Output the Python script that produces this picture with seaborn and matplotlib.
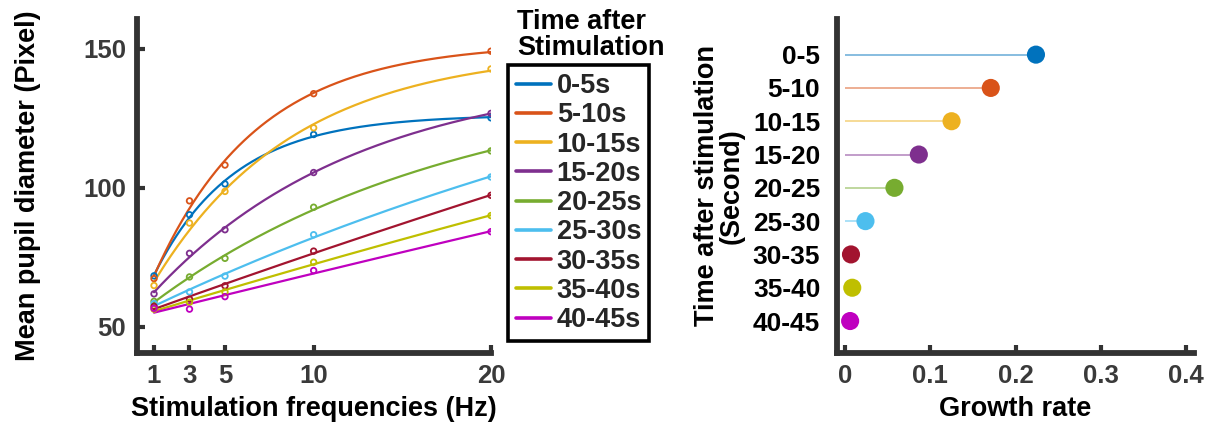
import numpy as np
import pandas as pd
import matplotlib
matplotlib.use("Agg")
import matplotlib.pyplot as plt
from matplotlib.lines import Line2D
import seaborn as sns

# ---------------- data ----------------
freqs = [1, 3, 5, 10, 20]
periods = ["0-5s", "5-10s", "10-15s", "15-20s", "20-25s",
           "25-30s", "30-35s", "35-40s", "40-45s"]
d_0_5   = [68.3, 90.3, 101.4, 119.2, 125.2]
d_5_10  = [67.3, 95.3, 108.2, 133.9, 149.2]
d_10_15 = [64.8, 87.3, 98.7, 121.6, 142.8]
d_15_20 = [61.8, 76.4, 84.9, 105.5, 126.8]
d_20_25 = [59.1, 67.9, 74.6, 93.0, 113.3]
d_25_30 = [58.3, 62.5, 68.2, 83.1, 103.9]
d_30_35 = [57.3, 59.9, 64.7, 77.2, 97.3]
d_35_40 = [56.3, 58.8, 62.5, 73.2, 90.0]
d_40_45 = [56.6, 56.3, 60.8, 70.2, 84.2]
series = [d_0_5, d_5_10, d_10_15, d_15_20, d_20_25,
          d_25_30, d_30_35, d_35_40, d_40_45]

rate_labels = ["0-5", "5-10", "10-15", "15-20", "20-25",
               "25-30", "30-35", "35-40", "40-45"]
growth_rate = [0.224, 0.171, 0.125, 0.0866, 0.058, 0.024, 0.007, 0.0085, 0.006]

x_ticks_left = [1, 3, 5, 10, 20]
y_ticks_left = [50, 100, 150]
x_ticks_right = [0, 0.1, 0.2, 0.3, 0.4]

colors = ["#0072BD", "#D95319", "#EDB120", "#7E2F8E", "#77AC30",
          "#4DBEEE", "#A2142F", "#BFBF00", "#BF00BF"]

# ---------------- style ----------------
sns.set_style("ticks")
plt.rcParams["font.family"] = ["Liberation Sans", "DejaVu Sans"]
plt.rcParams["font.weight"] = "bold"
plt.rcParams["axes.labelweight"] = "bold"

AX_COL = "#333333"
TICK_COL = "#3a3a3a"
W, H = 1223, 436
fig = plt.figure(figsize=(W / 100, H / 100), dpi=100)

def fx(px):
    return px / W

def fy(py):
    return 1 - py / H

ax1 = fig.add_axes([fx(137), fy(353), fx(491) - fx(137), fy(19) - fy(353)])
ax2 = fig.add_axes([fx(837), fy(353), fx(1194) - fx(837), fy(19) - fy(353)])


def fit_sat(x, y):
    x = np.asarray(x, float)
    y = np.asarray(y, float)
    best = None
    for c in np.linspace(0.003, 1.0, 600):
        A = np.column_stack([np.ones_like(x), -np.exp(-c * x)])
        coef, *_ = np.linalg.lstsq(A, y, rcond=None)
        r = np.sum((A @ coef - y) ** 2)
        if best is None or r < best[0]:
            best = (r, coef, c)
    _, (a, b), c = best
    return lambda t: a - b * np.exp(-c * t)


xs = np.linspace(1, 20, 300)
rows = []
for lab, vals in zip(periods, series):
    f = fit_sat(freqs, vals)
    for t in xs:
        rows.append({"freq": t, "val": f(t), "period": lab})
fit_df = pd.DataFrame(rows)
pts_df = pd.DataFrame({
    "freq": np.tile(freqs, len(periods)),
    "val": np.concatenate(series),
    "period": np.repeat(periods, len(freqs)),
})

sns.lineplot(data=fit_df, x="freq", y="val", hue="period", palette=colors,
             hue_order=periods, ax=ax1, legend=False, linewidth=1.6)
for lab, col in zip(periods, colors):
    sub = pts_df[pts_df["period"] == lab]
    sns.scatterplot(x=sub["freq"], y=sub["val"], ax=ax1, marker="o", s=16,
                    facecolors="none", edgecolors=col, linewidth=1.3, zorder=3)

ax1.set_xlim(0.04, 20.0)
ax1.set_ylim(40.5, 160.8)
ax1.set_xticks(x_ticks_left)
ax1.set_yticks(y_ticks_left)
ax1.set_xlabel("Stimulation frequencies (Hz)", fontsize=19.5, color="black", labelpad=6)
ax1.set_ylabel("Mean pupil diameter (Pixel)", fontsize=19.5, color="black", labelpad=30)

# ---------- right lollipop ----------
ypos = np.arange(len(rate_labels))
rate_df = pd.DataFrame({"rate": growth_rate, "pos": ypos, "label": rate_labels})
ax2.hlines(rate_df["pos"], 0, rate_df["rate"], colors=colors, alpha=0.55, linewidth=1.2)
sns.scatterplot(data=rate_df, x="rate", y="pos", hue="label", palette=colors,
                hue_order=rate_labels, ax=ax2, s=170, edgecolor="none",
                legend=False, zorder=3)
ax2.set_xlim(-0.0094, 0.4094)
ax2.set_ylim(8.96, -1.07)
ax2.set_yticks(ypos)
ax2.set_yticklabels(rate_labels)
ax2.set_xticks(x_ticks_right)
ax2.set_xticklabels(["0", "0.1", "0.2", "0.3", "0.4"])
ax2.set_xlabel("Growth rate", fontsize=19.5, color="black", labelpad=6)
ax2.set_ylabel("Time after stimulation\n(Second)", fontsize=19.5, color="black",
               labelpad=6, linespacing=0.95)

for ax in (ax1, ax2):
    sns.despine(ax=ax)
    for s in ("left", "bottom"):
        ax.spines[s].set_linewidth(4.2)
        ax.spines[s].set_color(AX_COL)
    ax.tick_params(direction="in", length=5.5, width=3, color=AX_COL,
                   labelsize=18.5, labelcolor=TICK_COL, pad=8)
    for t in ax.get_xticklabels() + ax.get_yticklabels():
        t.set_fontweight("bold")
ax2.tick_params(axis="y", length=0, labelcolor="black", labelsize=19, pad=12)

# ---------- legend ----------
handles = [Line2D([0], [0], color=c, lw=2.6) for c in colors]
leg = fig.legend(handles, periods, loc="upper left",
                 bbox_to_anchor=(fx(508), fy(65)), borderaxespad=0,
                 frameon=True, fancybox=False, edgecolor="black", framealpha=1,
                 prop={"size": 19.5, "weight": "bold"}, handlelength=1.3,
                 handletextpad=0.2, labelspacing=0.12, borderpad=0.3)
leg.get_frame().set_linewidth(2.6)
fig.text(fx(517), fy(9), "Time after\nStimulation", ha="left", va="top",
         fontsize=19.5, fontweight="bold", color="black", linespacing=1.0)

fig.savefig("out.png", dpi=100)
